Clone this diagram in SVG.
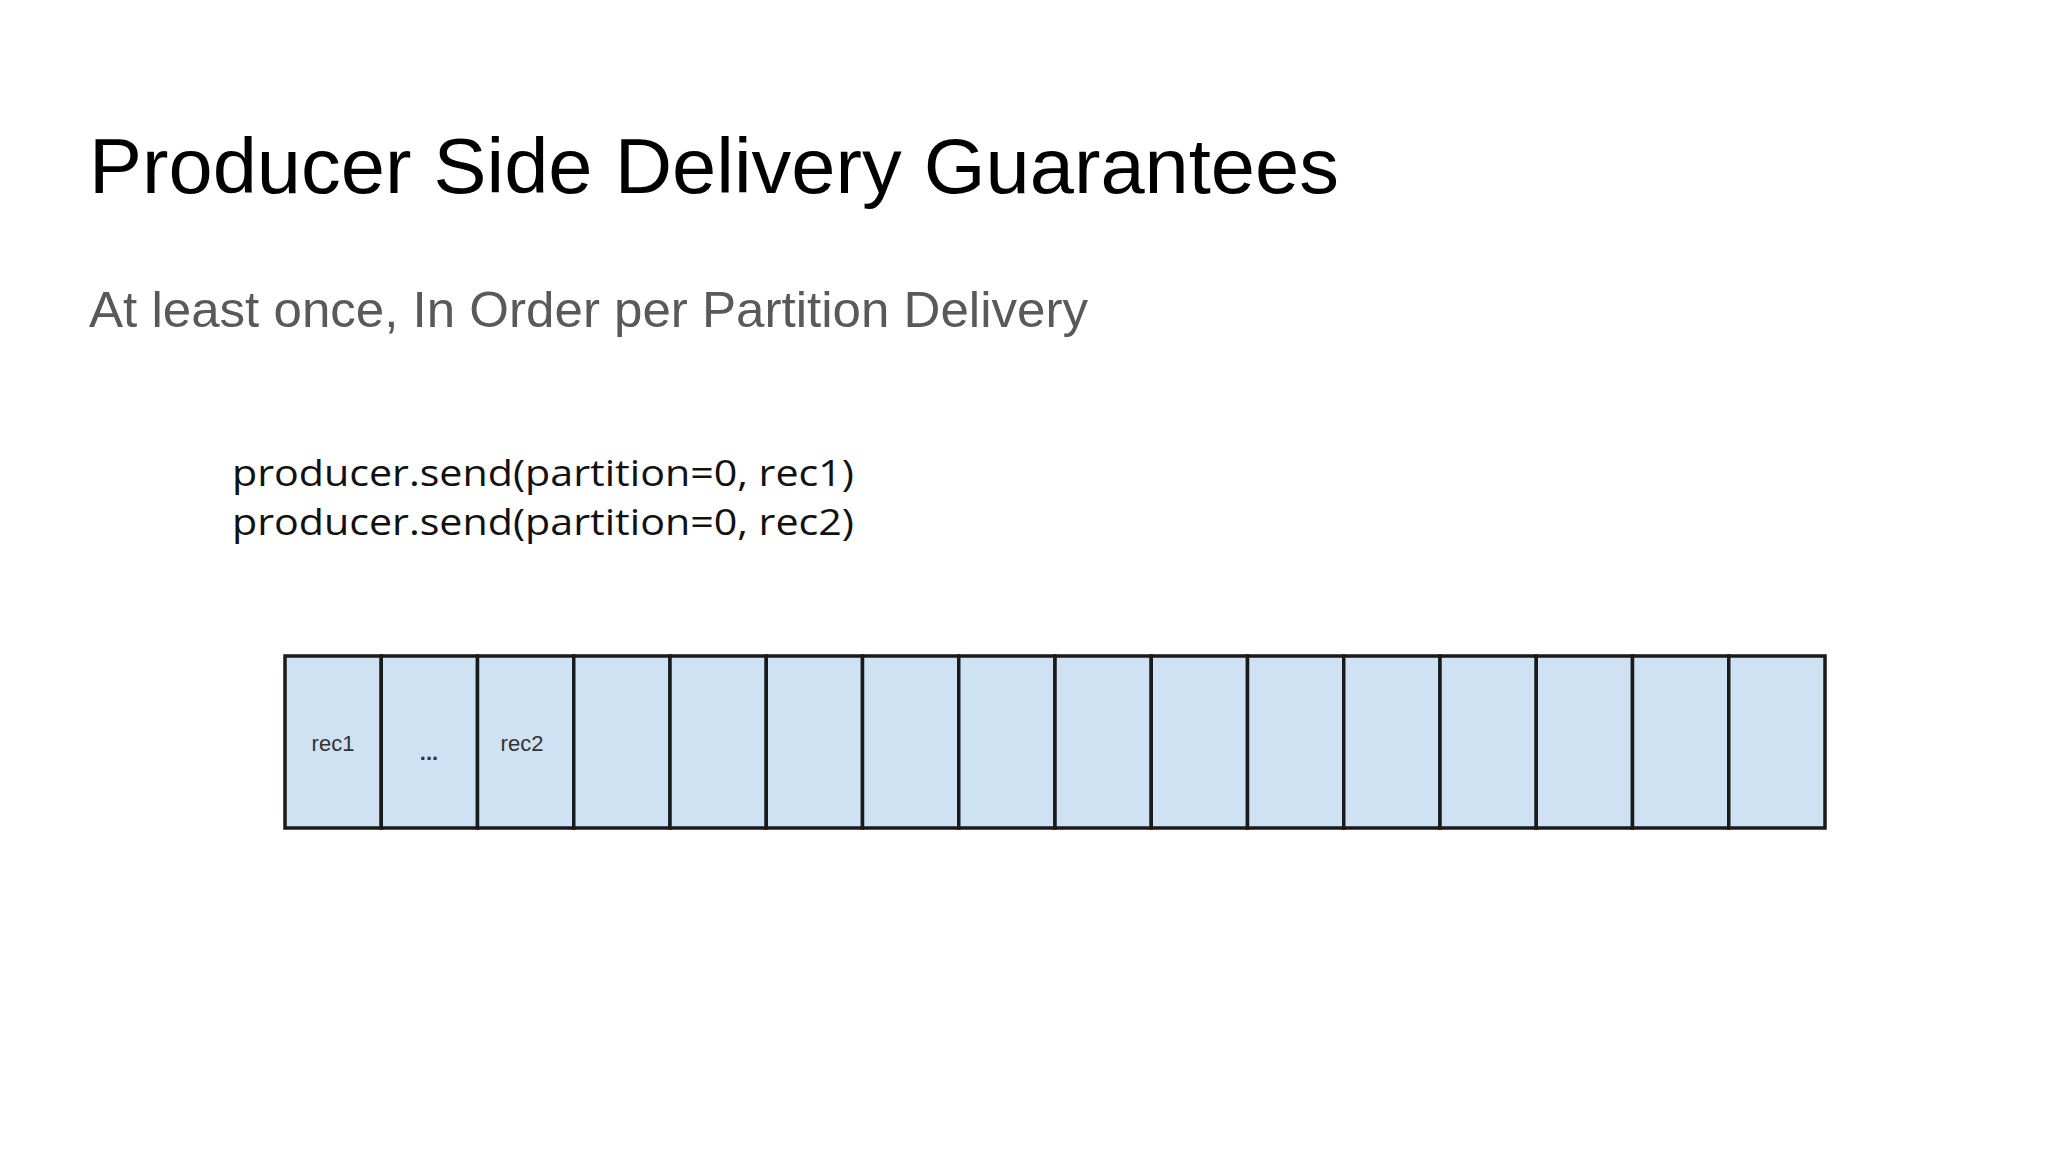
<svg xmlns="http://www.w3.org/2000/svg" width="2048" height="1152" viewBox="0 0 2048 1152">
<style>
.cell{fill:#cfe2f3;stroke:#1a1a1a;stroke-width:3.5}
.lbl{font-family:"Liberation Sans",Arial,sans-serif;font-size:22px;fill:#333;text-anchor:middle}
</style>
<rect width="2048" height="1152" fill="#fff"/>
<text x="89" y="193" font-family="Liberation Sans,Arial,sans-serif" font-size="78" fill="#000" textLength="1250" lengthAdjust="spacingAndGlyphs">Producer Side Delivery Guarantees</text>
<text x="89" y="327" font-family="Liberation Sans,Arial,sans-serif" font-size="50" fill="#595959" textLength="999" lengthAdjust="spacingAndGlyphs">At least once, In Order per Partition Delivery</text>
<g id="code" font-family="Open Sans,DejaVu Sans,sans-serif" font-size="37" fill="#111">
<text x="232" y="486" textLength="622" lengthAdjust="spacingAndGlyphs">producer.send(partition=0, rec1)</text>
<text x="232" y="535" textLength="622" lengthAdjust="spacingAndGlyphs">producer.send(partition=0, rec2)</text>
</g>
<g id="partition">
<rect class="cell" x="285" y="656" width="96.25" height="172"/>
<rect class="cell" x="381.25" y="656" width="96.25" height="172"/>
<rect class="cell" x="477.5" y="656" width="96.25" height="172"/>
<rect class="cell" x="573.75" y="656" width="96.25" height="172"/>
<rect class="cell" x="670" y="656" width="96.25" height="172"/>
<rect class="cell" x="766.25" y="656" width="96.25" height="172"/>
<rect class="cell" x="862.5" y="656" width="96.25" height="172"/>
<rect class="cell" x="958.75" y="656" width="96.25" height="172"/>
<rect class="cell" x="1055" y="656" width="96.25" height="172"/>
<rect class="cell" x="1151.25" y="656" width="96.25" height="172"/>
<rect class="cell" x="1247.5" y="656" width="96.25" height="172"/>
<rect class="cell" x="1343.75" y="656" width="96.25" height="172"/>
<rect class="cell" x="1440" y="656" width="96.25" height="172"/>
<rect class="cell" x="1536.25" y="656" width="96.25" height="172"/>
<rect class="cell" x="1632.5" y="656" width="96.25" height="172"/>
<rect class="cell" x="1728.75" y="656" width="96.25" height="172"/>
<text class="lbl" x="333" y="751">rec1</text>
<text class="lbl" x="429" y="760" font-size="30" font-weight="bold">...</text>
<text class="lbl" x="522" y="751">rec2</text>
</g>
</svg>
